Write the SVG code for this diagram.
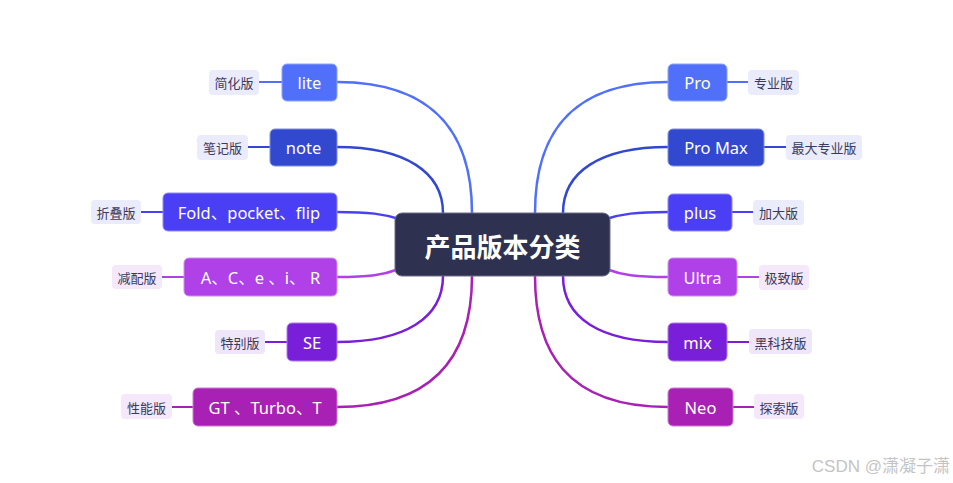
<svg xmlns="http://www.w3.org/2000/svg" width="953" height="483" viewBox="0 0 953 483">
<style>
.n{stroke-width:1;}
.nt{font-family:"Noto Sans","Noto Sans CJK SC",sans-serif;font-size:16.5px;fill:#fff;text-anchor:middle;dominant-baseline:central;}
.lt{font-family:"Noto Sans CJK SC","Noto Sans",sans-serif;font-size:13px;fill:#3a3a5c;text-anchor:middle;dominant-baseline:central;}
.c{fill:none;stroke-width:2.5;stroke-linecap:round;}
.s{fill:none;stroke-width:2;}
.lb{fill:#eaecfc;}
.lp{fill:#f4e8fa;}
.lv{fill:#efe6fa;}
</style>
<rect width="953" height="483" fill="#ffffff"/>
<g id="connectors">
<path class="c" stroke="#5070fa" d="M337 82 C440 82 472 140 472 213"/>
<path class="c" stroke="#3249cf" d="M337 147 C405 147 443 172 443 213"/>
<path class="c" stroke="#4a3ff5" d="M337 212 C370 212 383 214 399 219"/>
<path class="c" stroke="#b040e8" d="M337 277 C370 277 383 275 399 269"/>
<path class="c" stroke="#7a1fd9" d="M337 342 C405 342 443 318 443 276"/>
<path class="c" stroke="#a820b4" d="M337 407 C440 407 472 350 472 276"/>
<path class="c" stroke="#5070fa" d="M668 82 C565 82 535 140 535 213"/>
<path class="c" stroke="#3249cf" d="M668 147 C600 147 563 172 563 213"/>
<path class="c" stroke="#4a3ff5" d="M668 212 C635 212 622 214 606 219"/>
<path class="c" stroke="#b040e8" d="M668 277 C635 277 622 275 606 269"/>
<path class="c" stroke="#7a1fd9" d="M668 342 C600 342 563 318 563 276"/>
<path class="c" stroke="#a820b4" d="M668 407 C565 407 535 350 535 276"/>
<line class="s" stroke="#5070fa" x1="259" y1="82" x2="282" y2="82"/>
<line class="s" stroke="#3249cf" x1="248" y1="147" x2="270" y2="147"/>
<line class="s" stroke="#4a3ff5" x1="141" y1="212" x2="163" y2="212"/>
<line class="s" stroke="#b040e8" x1="162" y1="277" x2="184" y2="277"/>
<line class="s" stroke="#7a1fd9" x1="265" y1="342" x2="287" y2="342"/>
<line class="s" stroke="#a820b4" x1="172" y1="407" x2="193" y2="407"/>
<line class="s" stroke="#5070fa" x1="727" y1="82" x2="748" y2="82"/>
<line class="s" stroke="#3249cf" x1="764" y1="147" x2="786" y2="147"/>
<line class="s" stroke="#4a3ff5" x1="732" y1="212" x2="753" y2="212"/>
<line class="s" stroke="#b040e8" x1="737" y1="277" x2="759" y2="277"/>
<line class="s" stroke="#7a1fd9" x1="727" y1="342" x2="749" y2="342"/>
<line class="s" stroke="#a820b4" x1="733" y1="407" x2="754" y2="407"/>
</g>
<g id="center">
<rect x="395" y="213" width="215" height="63" rx="7" fill="#2e3150" stroke="#6a6c85" stroke-width="1"/>
<text x="502.5" y="245" font-family="'Noto Sans CJK SC',sans-serif" font-size="26" font-weight="bold" fill="#ffffff" text-anchor="middle" dominant-baseline="central">产品版本分类</text>
</g>
<g id="node-lite"><rect class="n" x="282" y="64" width="55" height="37" rx="5" fill="#5070fa" stroke="#8ea2fb"/><text class="nt" x="309.5" y="82">lite</text></g>
<g id="label-lite"><rect class="lb" x="209" y="70" width="50" height="25" rx="4"/><text class="lt" x="234" y="82">简化版</text></g>
<g id="node-note"><rect class="n" x="270" y="129" width="67" height="37" rx="5" fill="#3249cf" stroke="#7f8fe0"/><text class="nt" x="303.5" y="147">note</text></g>
<g id="label-note"><rect class="lb" x="197" y="135" width="51" height="25" rx="4"/><text class="lt" x="222.5" y="147">笔记版</text></g>
<g id="node-fold"><rect class="n" x="163" y="193" width="174" height="38" rx="5" fill="#4a3ff5" stroke="#8f88f9"/><text class="nt" x="249" y="212">Fold、pocket、flip</text></g>
<g id="label-fold"><rect class="lb" x="91" y="200" width="50" height="24" rx="4"/><text class="lt" x="116" y="212">折叠版</text></g>
<g id="node-acei"><rect class="n" x="184" y="258" width="153" height="38" rx="5" fill="#b040e8" stroke="#d08cf1"/><text class="nt" x="260.5" y="277">A、C、e 、i、 R</text></g>
<g id="label-acei"><rect class="lp" x="112" y="265" width="50" height="24" rx="4"/><text class="lt" x="137" y="277">减配版</text></g>
<g id="node-se"><rect class="n" x="287" y="323" width="50" height="38" rx="5" fill="#7a1fd9" stroke="#ad79e8"/><text class="nt" x="312" y="342">SE</text></g>
<g id="label-se"><rect class="lv" x="215" y="330" width="50" height="24" rx="4"/><text class="lt" x="240" y="342">特别版</text></g>
<g id="node-gt"><rect class="n" x="193" y="388" width="144" height="38" rx="5" fill="#a820b4" stroke="#cc79d3"/><text class="nt" x="265" y="407">GT 、Turbo、T</text></g>
<g id="label-gt"><rect class="lp" x="121" y="394" width="51" height="25" rx="4"/><text class="lt" x="146.5" y="407">性能版</text></g>
<g id="node-pro"><rect class="n" x="668" y="64" width="59" height="37" rx="5" fill="#5070fa" stroke="#8ea2fb"/><text class="nt" x="697.5" y="82">Pro</text></g>
<g id="label-pro"><rect class="lb" x="748" y="70" width="51" height="25" rx="4"/><text class="lt" x="773.5" y="82">专业版</text></g>
<g id="node-promax"><rect class="n" x="668" y="129" width="96" height="37" rx="5" fill="#3249cf" stroke="#7f8fe0"/><text class="nt" x="716" y="147">Pro Max</text></g>
<g id="label-promax"><rect class="lb" x="786" y="135" width="76" height="25" rx="4"/><text class="lt" x="824" y="147">最大专业版</text></g>
<g id="node-plus"><rect class="n" x="668" y="194" width="64" height="37" rx="5" fill="#4a3ff5" stroke="#8f88f9"/><text class="nt" x="700" y="212">plus</text></g>
<g id="label-plus"><rect class="lb" x="753" y="200" width="51" height="25" rx="4"/><text class="lt" x="778.5" y="212">加大版</text></g>
<g id="node-ultra"><rect class="n" x="668" y="258" width="69" height="38" rx="5" fill="#b040e8" stroke="#d08cf1"/><text class="nt" x="702.5" y="277">Ultra</text></g>
<g id="label-ultra"><rect class="lp" x="759" y="265" width="50" height="25" rx="4"/><text class="lt" x="784" y="277">极致版</text></g>
<g id="node-mix"><rect class="n" x="668" y="323" width="59" height="38" rx="5" fill="#7a1fd9" stroke="#ad79e8"/><text class="nt" x="697.5" y="342">mix</text></g>
<g id="label-mix"><rect class="lv" x="749" y="329" width="63" height="25" rx="4"/><text class="lt" x="780.5" y="342">黑科技版</text></g>
<g id="node-neo"><rect class="n" x="668" y="388" width="65" height="38" rx="5" fill="#a820b4" stroke="#cc79d3"/><text class="nt" x="700.5" y="407">Neo</text></g>
<g id="label-neo"><rect class="lp" x="754" y="394" width="50" height="25" rx="4"/><text class="lt" x="779" y="407">探索版</text></g>
<text x="950" y="466" font-family="'Liberation Sans','Noto Sans CJK SC',sans-serif" font-size="17" fill="#c4c4c4" text-anchor="end" dominant-baseline="central">CSDN @潇凝子潇</text>
</svg>
